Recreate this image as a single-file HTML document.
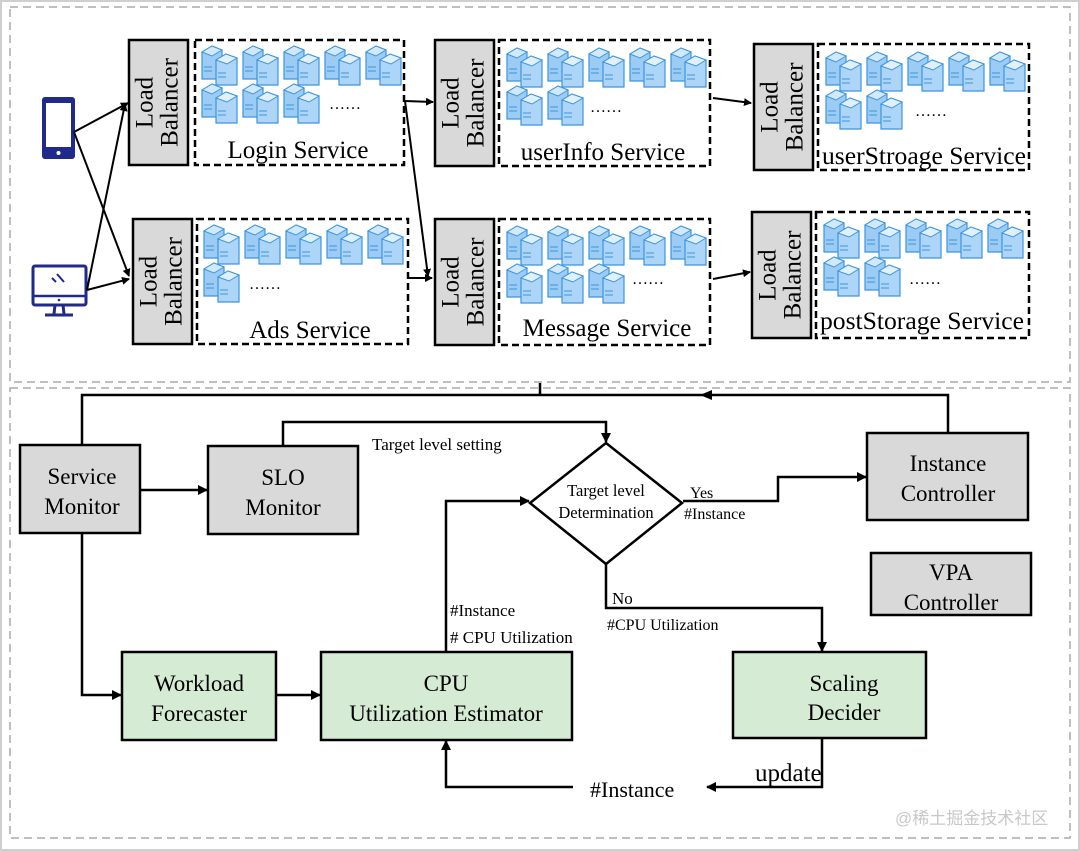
<!DOCTYPE html>
<html><head><meta charset="utf-8"><style>
html,body{margin:0;padding:0;background:#fff;}
svg{display:block;font-family:"Liberation Serif","Noto Serif CJK SC",serif;}
</style></head><body>
<svg width="1080" height="851" viewBox="0 0 1080 851" xmlns="http://www.w3.org/2000/svg">
<defs>
<marker id="ah" markerWidth="10" markerHeight="10" refX="9" refY="5" orient="auto" markerUnits="userSpaceOnUse">
<path d="M0,0 L10,5 L0,10 z" fill="#000"/></marker>
<marker id="ahs" markerWidth="8" markerHeight="8" refX="7" refY="4" orient="auto" markerUnits="userSpaceOnUse">
<path d="M0,0 L8,4 L0,8 z" fill="#000"/></marker>
<g id="srv">
<path d="M2,7 L12,1 L22,5 L22,34 L2,34 z" fill="#9ccbf4" stroke="#3d95e0" stroke-width="1.2"/>
<path d="M2,7 L12,1 L22,5 L12,11 z" fill="#d2e9fc" stroke="#3d95e0" stroke-width="1"/>
<line x1="4" y1="22" x2="12" y2="22" stroke="#3d95e0"/><line x1="4" y1="26" x2="12" y2="26" stroke="#3d95e0"/>
<path d="M16,15 L26,9 L37,13 L37,40 L16,40 z" fill="#acd5f8" stroke="#3d95e0" stroke-width="1.2"/>
<path d="M16,15 L26,9 L37,13 L27,19 z" fill="#e0f0fd" stroke="#3d95e0" stroke-width="1"/>
<line x1="18" y1="28" x2="26" y2="28" stroke="#3d95e0"/><line x1="18" y1="32" x2="26" y2="32" stroke="#3d95e0"/>
</g>
</defs>
<rect x="0" y="0" width="1080" height="851" fill="#fff"/>
<rect x="0.5" y="0.5" width="1079" height="850" fill="none" stroke="#cfcfcf" stroke-width="3"/>
<rect x="10" y="7" width="1060" height="375" fill="none" stroke="#aaa" stroke-width="1.5" stroke-dasharray="8,5"/>
<rect x="10" y="388" width="1060" height="450" fill="none" stroke="#aaa" stroke-width="1.5" stroke-dasharray="8,5"/>

<rect x="42" y="97" width="33" height="62" rx="3" fill="#1f2a8a"/>
<rect x="46" y="103" width="25" height="44" fill="#fff"/>
<circle cx="58.5" cy="153" r="2" fill="#fff"/>
<rect x="33" y="266" width="53" height="39" rx="2" fill="none" stroke="#1f2a8a" stroke-width="3"/>
<line x1="33" y1="296" x2="86" y2="296" stroke="#1f2a8a" stroke-width="2.5"/>
<circle cx="59" cy="300" r="1.3" fill="#1f2a8a"/>
<path d="M55,305 L54,314 M63,305 L64,314 M45,315 L73,315" stroke="#1f2a8a" stroke-width="3" fill="none"/>
<path d="M52,278 L56,282 M57,274 L64,282" stroke="#1f2a8a" stroke-width="2" fill="none"/>

<g stroke="#000" stroke-width="2" fill="none" marker-end="url(#ahs)">
<line x1="74" y1="132" x2="128" y2="103"/>
<line x1="74" y1="132" x2="129" y2="276"/>
<line x1="87" y1="290" x2="125" y2="104"/>
<line x1="87" y1="290" x2="129" y2="279"/>
<line x1="405" y1="101" x2="433" y2="102"/>
<line x1="405" y1="101" x2="428" y2="276"/>
<line x1="408" y1="278" x2="432" y2="278"/>
<line x1="713" y1="98" x2="751" y2="103"/>
<line x1="713" y1="279" x2="750" y2="272"/>
</g>

<g fill="#d9d9d9" stroke="#000" stroke-width="2.5">
<rect x="129" y="40" width="59" height="125"/>
<rect x="133" y="219" width="59" height="125"/>
<rect x="435" y="40" width="59" height="126"/>
<rect x="435" y="219" width="59" height="126"/>
<rect x="754" y="44" width="59" height="126"/>
<rect x="752" y="212" width="59" height="126"/>
</g>
<g font-size="25" fill="#000" text-anchor="middle">
<text transform="translate(158.5,102.5) rotate(-90)"><tspan x="0" y="-6">Load</tspan><tspan x="0" y="19">Balancer</tspan></text>
<text transform="translate(162.5,281.5) rotate(-90)"><tspan x="0" y="-6">Load</tspan><tspan x="0" y="19">Balancer</tspan></text>
<text transform="translate(464.5,103) rotate(-90)"><tspan x="0" y="-6">Load</tspan><tspan x="0" y="19">Balancer</tspan></text>
<text transform="translate(464.5,282) rotate(-90)"><tspan x="0" y="-6">Load</tspan><tspan x="0" y="19">Balancer</tspan></text>
<text transform="translate(783.5,107) rotate(-90)"><tspan x="0" y="-6">Load</tspan><tspan x="0" y="19">Balancer</tspan></text>
<text transform="translate(781.5,275) rotate(-90)"><tspan x="0" y="-6">Load</tspan><tspan x="0" y="19">Balancer</tspan></text>
</g>

<g fill="none" stroke="#000" stroke-width="2.5" stroke-dasharray="7,4">
<rect x="195" y="40" width="209" height="125"/>
<rect x="197" y="219" width="211" height="125"/>
<rect x="499" y="40" width="211" height="126"/>
<rect x="499" y="219" width="211" height="126"/>
<rect x="818" y="44" width="211" height="126"/>
<rect x="816" y="212" width="213" height="126"/>
</g>

<g>
<use href="#srv" x="200" y="45"/><use href="#srv" x="241" y="45"/><use href="#srv" x="282" y="45"/><use href="#srv" x="323" y="45"/><use href="#srv" x="364" y="45"/>
<use href="#srv" x="200" y="83"/><use href="#srv" x="241" y="83"/><use href="#srv" x="282" y="83"/>
<use href="#srv" x="202" y="224"/><use href="#srv" x="243" y="224"/><use href="#srv" x="284" y="224"/><use href="#srv" x="325" y="224"/><use href="#srv" x="366" y="224"/>
<use href="#srv" x="202" y="262"/>
<use href="#srv" x="505" y="47"/><use href="#srv" x="546" y="47"/><use href="#srv" x="587" y="47"/><use href="#srv" x="628" y="47"/><use href="#srv" x="669" y="47"/>
<use href="#srv" x="505" y="85"/><use href="#srv" x="546" y="85"/>
<use href="#srv" x="505" y="225"/><use href="#srv" x="546" y="225"/><use href="#srv" x="587" y="225"/><use href="#srv" x="628" y="225"/><use href="#srv" x="669" y="225"/>
<use href="#srv" x="505" y="263"/><use href="#srv" x="546" y="263"/><use href="#srv" x="587" y="263"/>
<use href="#srv" x="824" y="51"/><use href="#srv" x="865" y="51"/><use href="#srv" x="906" y="51"/><use href="#srv" x="947" y="51"/><use href="#srv" x="988" y="51"/>
<use href="#srv" x="824" y="89"/><use href="#srv" x="865" y="89"/>
<use href="#srv" x="822" y="218"/><use href="#srv" x="863" y="218"/><use href="#srv" x="904" y="218"/><use href="#srv" x="945" y="218"/><use href="#srv" x="986" y="218"/>
<use href="#srv" x="822" y="256"/><use href="#srv" x="863" y="256"/>
</g>
<g font-size="16" fill="#000">
<text x="329" y="109">……</text><text x="249" y="289">……</text>
<text x="590" y="112">……</text><text x="632" y="284">……</text>
<text x="915" y="116">……</text><text x="909" y="284">……</text>
</g>
<g font-size="25" fill="#000" text-anchor="middle">
<text x="298" y="158">Login Service</text>
<text x="310" y="338">Ads Service</text>
<text x="603" y="160">userInfo Service</text>
<text x="607" y="336">Message  Service</text>
<text x="924" y="164" textLength="204" lengthAdjust="spacingAndGlyphs">userStroage Service</text>
<text x="922" y="329" textLength="204" lengthAdjust="spacingAndGlyphs">postStorage Service</text>
</g>

<g stroke="#000" stroke-width="2.5" fill="none">
<polyline points="540,383 540,395"/>
<polyline points="82,445 82,395 540,395"/>
<polyline points="948,433 948,395 540,395"/>
<polyline points="283,446 283,422 606,422 606,442" marker-end="url(#ah)"/>
<line x1="140" y1="490" x2="207" y2="490" marker-end="url(#ah)"/>
<polyline points="446,652 446,501 529,501" marker-end="url(#ah)"/>
<polyline points="683,501 778,501 778,477 866,477" marker-end="url(#ah)"/>
<polyline points="606,564 606,608 822,608 822,651" marker-end="url(#ah)"/>
<polyline points="82,533 82,695 121,695" marker-end="url(#ah)"/>
<line x1="276" y1="695" x2="320" y2="695" marker-end="url(#ah)"/>
<polyline points="822,738 822,787 707,787" marker-end="url(#ah)"/>
<polyline points="573,787 446,787 446,741" marker-end="url(#ah)"/>
</g>
<path d="M700,395 L712,390 L712,400 z" fill="#000"/>

<g stroke="#000" stroke-width="2.5">
<rect x="20" y="445" width="120" height="88" fill="#d9d9d9"/>
<rect x="208" y="446" width="150" height="88" fill="#d9d9d9"/>
<rect x="867" y="433" width="161" height="87" fill="#d9d9d9"/>
<rect x="871" y="553" width="160" height="62" fill="#d9d9d9"/>
<rect x="122" y="652" width="154" height="88" fill="#d5ebd3"/>
<rect x="321" y="652" width="251" height="88" fill="#d5ebd3"/>
<rect x="733" y="652" width="193" height="86" fill="#d5ebd3"/>
<polygon points="606,443 682,503 606,564 530,503" fill="#fff"/>
</g>
<g font-size="23" fill="#000" text-anchor="middle">
<text x="82" y="484">Service</text><text x="82" y="514">Monitor</text>
<text x="283" y="485">SLO</text><text x="283" y="515">Monitor</text>
<text x="948" y="471">Instance</text><text x="948" y="501">Controller</text>
<text x="951" y="580">VPA</text><text x="951" y="610">Controller</text>
<text x="199" y="691">Workload</text><text x="199" y="721">Forecaster</text>
<text x="446" y="691">CPU</text><text x="446" y="721">Utilization Estimator</text>
<text x="844" y="691">Scaling</text><text x="844" y="720">Decider</text>
</g>
<g font-size="16.5" fill="#000" text-anchor="middle">
<text x="606" y="496">Target level</text><text x="606" y="518">Determination</text>
</g>
<g font-size="17" fill="#000">
<text x="372" y="450">Target level setting</text>
<text x="450" y="616">#Instance</text>
<text x="450" y="643"># CPU Utilization</text>
<text x="690" y="498" font-size="16">Yes</text>
<text x="684" y="519" font-size="16">#Instance</text>
<text x="612" y="604">No</text>
<text x="607" y="630" font-size="16">#CPU Utilization</text>
</g>
<text x="755" y="781" font-size="25" fill="#000">update</text>
<text x="590" y="797" font-size="22" fill="#000">#Instance</text>
<text x="895" y="824" font-size="17" fill="#c8c8c8" font-family="'Liberation Sans','Noto Sans CJK SC',sans-serif">@稀土掘金技术社区</text>
</svg>
</body></html>
